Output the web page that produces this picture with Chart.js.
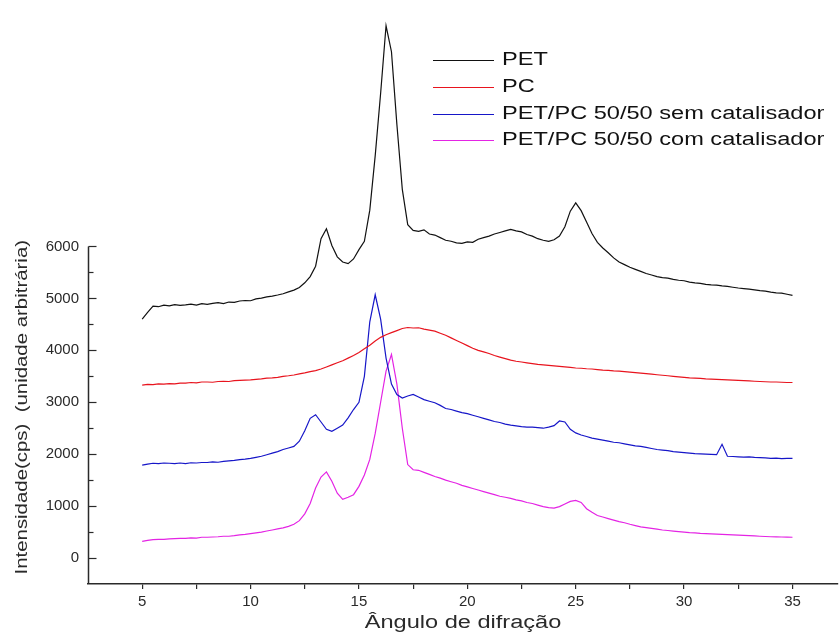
<!DOCTYPE html>
<html>
<head>
<meta charset="utf-8">
<script src="https://cdn.jsdelivr.net/npm/chart.js@4.4.1/dist/chart.umd.min.js"></script>
<style>
  html, body { margin: 0; padding: 0; background: #fff; }
  #wrap { width: 839px; height: 636px; position: relative; }
</style>
</head>
<body>
<div id="wrap"><canvas id="xrd"></canvas></div>
<script>
// Series names (legend order)
const seriesLabels = ['PET', 'PC', 'PET/PC 50/50 sem catalisador', 'PET/PC 50/50 com catalisador'];
const seriesColors = ['#111111', '#e8141e', '#1616c8', '#e424e4'];

// Scan: 5 to 35 degrees, one reading every 0.25 degree
const angleStart = 5;
const angleStep = 0.25;

// Intensity (cps), one row per degree
const pet = [
  4600, 4730, 4850, 4840,  4870, 4855, 4880, 4865,  4875, 4890, 4870, 4900,
  4885, 4905, 4920, 4900,  4930, 4925, 4950, 4960,  4955, 4990, 5005, 5030,
  5045, 5065, 5090, 5125,  5160, 5210, 5300, 5420,  5620, 6150, 6340, 6020,
  5800, 5700, 5670, 5760,  5940, 6100, 6700, 7750,  8950, 10250, 9750, 8350,
  7100, 6420, 6310, 6290,  6320, 6240, 6220, 6170,  6120, 6100, 6070, 6060,
  6090, 6080, 6140, 6170,  6200, 6240, 6270, 6300,  6330, 6300, 6280, 6230,
  6200, 6150, 6120, 6100,  6130, 6200, 6380, 6680,  6840, 6690, 6470, 6250,
  6080, 5970, 5880, 5780,  5700, 5650, 5600, 5560,  5520, 5480, 5450, 5420,
  5400, 5390, 5365, 5350,  5340, 5315, 5300, 5290,  5270, 5260, 5255, 5240,
  5230, 5215, 5200, 5190,  5180, 5165, 5150, 5140,  5120, 5105, 5100, 5080,
  5060
];
const pc = [
  3330, 3345, 3340, 3355,  3350, 3360, 3355, 3370,  3370, 3380, 3375, 3390,
  3390, 3385, 3400, 3405,  3400, 3415, 3420, 3425,  3430, 3440, 3450, 3465,
  3470, 3480, 3500, 3510,  3525, 3545, 3565, 3590,  3610, 3640, 3680, 3720,
  3760, 3800, 3850, 3900,  3960, 4030, 4100, 4180,  4250, 4300, 4340, 4380,
  4420, 4440, 4430, 4435,  4410, 4390, 4370, 4330,  4290, 4240, 4190, 4140,
  4090, 4040, 4000, 3970,  3940, 3900, 3870, 3840,  3810, 3790, 3775, 3760,
  3745, 3730, 3720, 3710,  3700, 3690, 3680, 3670,  3660, 3655, 3645, 3640,
  3630, 3620, 3615, 3605,  3600, 3590, 3580, 3570,  3560, 3550, 3540, 3530,
  3520, 3510, 3500, 3490,  3480, 3470, 3465, 3460,  3450, 3445, 3440, 3435,
  3430, 3425, 3420, 3415,  3410, 3405, 3400, 3395,  3390, 3390, 3385, 3380,
  3380
];
const blendSem = [
  1790, 1810, 1825, 1820,  1830, 1825, 1820, 1830,  1820, 1835, 1830, 1840,
  1840, 1850, 1845, 1860,  1870, 1880, 1895, 1905,  1920, 1940, 1960, 1990,
  2020, 2050, 2090, 2120,  2150, 2250, 2450, 2690,  2760, 2620, 2480, 2440,
  2500, 2560, 2700, 2860,  3000, 3500, 4550, 5070,  4600, 3850, 3350, 3150,
  3080, 3120, 3150, 3100,  3050, 3020, 2990, 2940,  2880, 2860, 2830, 2800,
  2780, 2750, 2720, 2690,  2660, 2630, 2610, 2580,  2560, 2545, 2530, 2520,
  2520, 2510, 2500, 2520,  2550, 2640, 2620, 2480,  2410, 2370, 2340, 2310,
  2290, 2270, 2250, 2230,  2220, 2200, 2180, 2160,  2150, 2130, 2110, 2090,
  2080, 2070, 2050, 2040,  2030, 2020, 2010, 2005,  2000, 1995, 1990, 2190,
  1960, 1955, 1950, 1945,  1950, 1940, 1935, 1930,  1920, 1925, 1915, 1920,
  1920
];
const blendCom = [
  320, 340, 355, 360,  360, 370, 375, 380,  380, 390, 385, 400,
  400, 405, 410, 420,  420, 430, 445, 455,  470, 485, 500, 520,
  540, 560, 580, 610,  650, 720, 850, 1050,  1350, 1560, 1660, 1480,
  1250, 1130, 1170, 1220,  1380, 1600, 1900, 2400,  3000, 3600, 3920, 3350,
  2500, 1800, 1700, 1690,  1650, 1610, 1570, 1540,  1500, 1470, 1440, 1400,
  1370, 1340, 1310, 1280,  1250, 1220, 1190, 1170,  1150, 1120, 1100, 1070,
  1050, 1020, 990, 970,  960, 990, 1040, 1090,  1110, 1070, 950, 880,
  820, 790, 760, 730,  700, 680, 650, 625,  600, 585, 570, 555,
  540, 530, 520, 510,  500, 490, 485, 475,  470, 465, 460, 455,
  450, 445, 440, 435,  430, 425, 420, 415,  410, 408, 405, 402,
  400
];

// Axis ticks
const xMajorTicks = [5, 10, 15, 20, 25, 30, 35];
const xMinorTicks = [7.5, 12.5, 17.5, 22.5, 27.5, 32.5];
const yMajorTicks = [0, 1000, 2000, 3000, 4000, 5000, 6000];
const yMinorTicks = [500, 1500, 2500, 3500, 4500, 5500];

const xTitle = 'Ângulo de difração';
const yTitle = 'Intensidade(cps)  (unidade arbitrária)';

const FONT = '"Liberation Sans", Arial, sans-serif';
const INK = '#2a2a2a';

function toPoints(values) {
  return values.map((v, i) => ({ x: angleStart + i * angleStep, y: v }));
}

// text drawn a little wider than the font, like the scanned figure
function drawWide(ctx, text, x, y, size, stretch, align) {
  ctx.save();
  ctx.font = size + 'px ' + FONT;
  ctx.textBaseline = 'middle';
  const w = ctx.measureText(text).width * stretch;
  let x0 = x;
  if (align === 'center') x0 = x - w / 2;
  ctx.translate(x0, y);
  ctx.scale(stretch, 1);
  ctx.textAlign = 'left';
  ctx.fillText(text, 0, 0);
  ctx.restore();
}

const decor = {
  id: 'decor',
  afterDraw(chart) {
    const { ctx, chartArea, scales } = chart;
    const y = scales.y;
    ctx.save();
    ctx.strokeStyle = INK;
    ctx.fillStyle = INK;

    // left axis: only runs from 6000 down to the bottom, ticks point inward
    const ax = Math.round(chartArea.left) + 0.5;
    const yTop = Math.round(y.getPixelForValue(6000)) + 0.5;
    ctx.lineWidth = 1.5;
    ctx.beginPath();
    ctx.moveTo(ax, yTop);
    ctx.lineTo(ax, chartArea.bottom);
    ctx.stroke();
    ctx.lineWidth = 1.2;
    yMajorTicks.forEach(v => {
      const p = Math.round(y.getPixelForValue(v)) + 0.5;
      ctx.beginPath(); ctx.moveTo(ax, p); ctx.lineTo(ax + 8, p); ctx.stroke();
    });
    yMinorTicks.forEach(v => {
      const p = Math.round(y.getPixelForValue(v)) + 0.5;
      ctx.beginPath(); ctx.moveTo(ax, p); ctx.lineTo(ax + 5, p); ctx.stroke();
    });

    // axis titles
    drawWide(ctx, xTitle, (chartArea.left + chartArea.right) / 2, 623, 18, 1.31, 'center');
    ctx.save();
    ctx.translate(22, (y.getPixelForValue(6000) + chartArea.bottom) / 2 - 8);
    ctx.rotate(-Math.PI / 2);
    drawWide(ctx, yTitle, 0, 0, 17, 1.2, 'center');
    ctx.restore();

    // legend
    const lx0 = 433, lx1 = 494, tx = 502;
    const rows = [60, 87, 114, 140];
    chart.data.datasets.forEach((ds, i) => {
      ctx.strokeStyle = ds.borderColor;
      ctx.lineWidth = 1.2;
      ctx.beginPath();
      ctx.moveTo(lx0, rows[i] + 0.5);
      ctx.lineTo(lx1, rows[i] + 0.5);
      ctx.stroke();
      ctx.fillStyle = '#111';
      drawWide(ctx, ds.label, tx, rows[i], 18, 1.31, 'left');
    });
    ctx.restore();
  }
};

const datasets = [pet, pc, blendSem, blendCom].map((values, i) => ({
  label: seriesLabels[i],
  data: toPoints(values),
  borderColor: seriesColors[i],
  backgroundColor: seriesColors[i],
  borderWidth: 1.2,
  pointRadius: 0,
  tension: 0,
  fill: false
}));

new Chart(document.getElementById('xrd'), {
  type: 'line',
  data: { datasets },
  options: {
    responsive: true,
    maintainAspectRatio: false,
    animation: false,
    layout: { padding: { top: 5, right: 1, left: 0, bottom: 0 } },
    plugins: {
      legend: { display: false },
      tooltip: { enabled: false }
    },
    scales: {
      x: {
        type: 'linear',
        min: 2.5,
        max: 37.1,
        afterBuildTicks: (scale) => {
          scale.ticks = xMajorTicks.concat(xMinorTicks).sort((a, b) => a - b).map(v => ({ value: v }));
        },
        afterFit: (scale) => { scale.height = 52; },
        ticks: {
          autoSkip: false,
          maxRotation: 0,
          padding: 4,
          color: INK,
          font: { family: FONT, size: 15 },
          callback: (v) => xMajorTicks.includes(v) ? String(v) : ''
        },
        grid: {
          drawOnChartArea: false,
          drawTicks: true,
          tickLength: 5,
          color: INK,
          lineWidth: 1.2
        },
        border: { display: true, color: INK, width: 1.5 }
      },
      y: {
        type: 'linear',
        min: -500,
        max: 10400,
        afterBuildTicks: (scale) => {
          scale.ticks = yMajorTicks.map(v => ({ value: v }));
        },
        afterFit: (scale) => { scale.width = 88; },
        ticks: {
          padding: 9,
          color: INK,
          font: { family: FONT, size: 15 },
          callback: (v) => String(v)
        },
        grid: { display: false, drawTicks: false },
        border: { display: false }
      }
    }
  },
  plugins: [decor]
});
</script>
</body>
</html>
